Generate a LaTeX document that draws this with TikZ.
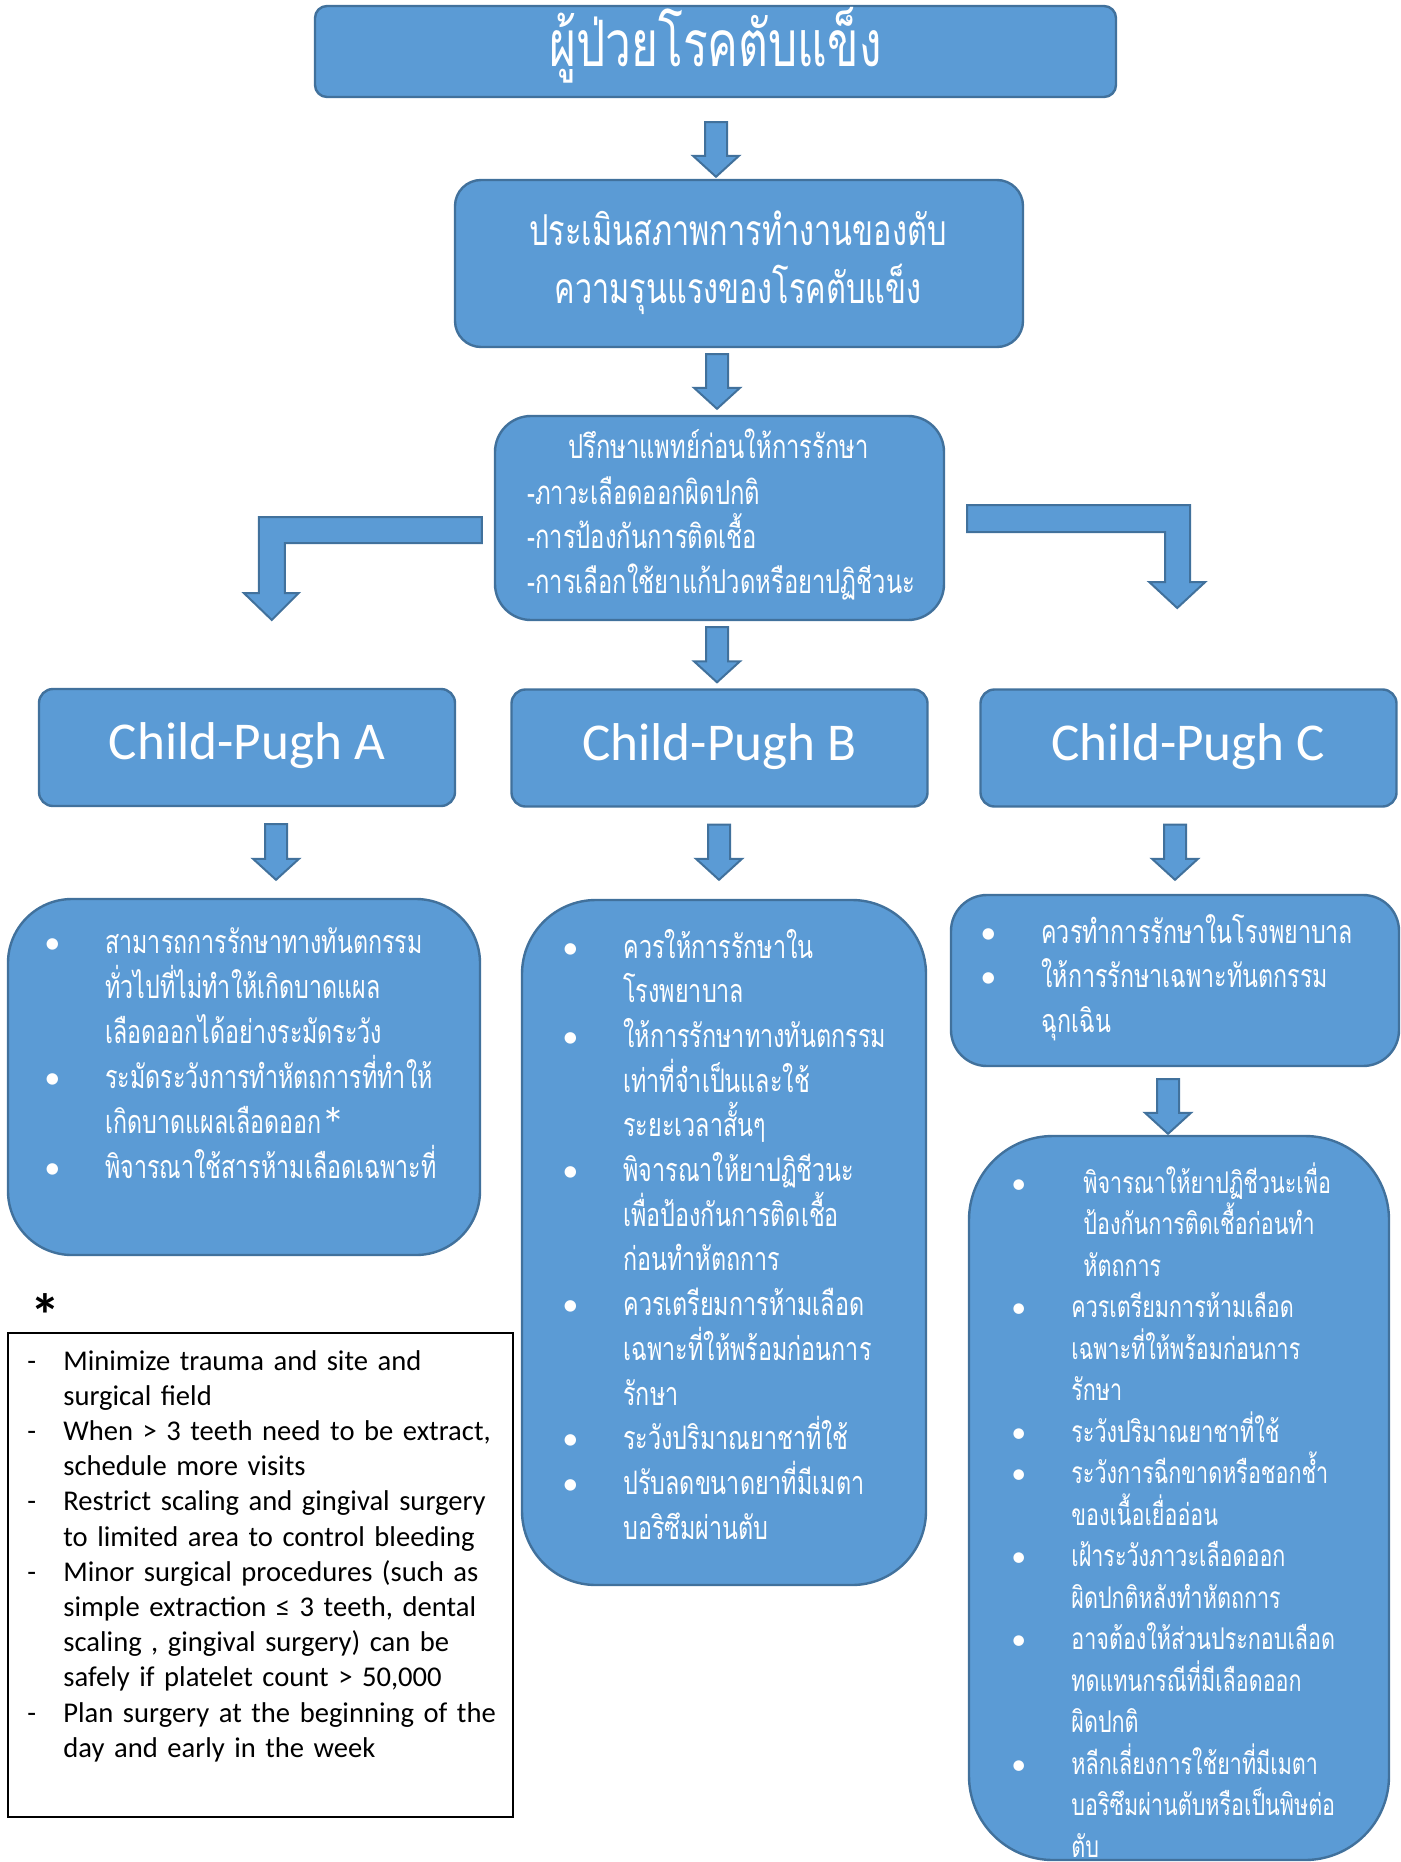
\documentclass[tikz,border=0pt]{standalone}
\usepackage{fontspec}
\setmainfont{Carlito}
\newfontfamily\thaifont[Script=Thai,FakeStretch=0.72]{Loma}
\usetikzlibrary{calc}

\definecolor{boxblue}{HTML}{5B9BD5}
\definecolor{edgeblue}{HTML}{41719C}

\tikzset{
  flowbox/.style={draw=edgeblue, fill=boxblue, line width=1.2pt, text=white, inner sep=0pt},
  blockarrow/.style={draw=edgeblue, fill=boxblue, line width=1pt},
  bodytext/.style={text=white, inner sep=0pt, align=left, text width=#1},
  bodytext/.default=200pt,
  notetext/.style={text=black, inner sep=0pt, align=left, text width=240pt,
    font=\fontsize{14.3}{17.6}\selectfont},
}

% bullet and hanging indent for the Thai lists
\newcommand\itm[1][30.5pt]{\makebox[#1][l]{\rmfamily\textbullet}}
\newcommand\cnt[1][30.5pt]{\hspace*{#1}}
% dash for the note box
\newcommand\dsh{\makebox[18pt][l]{-}}

% block arrow pointing down: source node, target node, x, gap at top, gap at tip
\newcommand\blockdown[5]{%
  \draw[blockarrow] let \p1=(#1.south), \p2=(#2.north), \p3=(#3,0) in
    (\x3-5.5pt,\y1-#4*0.5pt) -- (\x3+5.5pt,\y1-#4*0.5pt)
    -- (\x3+5.5pt,\y2+#5*0.5pt+10.5pt) -- (\x3+11.5pt,\y2+#5*0.5pt+10.5pt)
    -- (\x3,\y2+#5*0.5pt) -- (\x3-11.5pt,\y2+#5*0.5pt+10.5pt)
    -- (\x3-5.5pt,\y2+#5*0.5pt+10.5pt) -- cycle;}

\begin{document}
\begin{tikzpicture}[x=0.5pt, y=-0.5pt]
    \useasboundingbox (0,0) rectangle (1401,1862);

    % Top: patient
    \node[flowbox, rounded corners=6pt, minimum width=400.5pt, minimum height=45.5pt,
          font=\thaifont\fontsize{32}{36}\selectfont, text height=15pt, text depth=0pt]
          (title) at (715.5,51.5) {ผู้ป่วยโรคตับแข็ง};

    % Assessment
    \node[flowbox, rounded corners=13pt, minimum width=284pt, minimum height=83.5pt]
          (assess) at (739,263.5) {};
    \node[bodytext=280pt, align=center, anchor=base, font=\thaifont\fontsize{21.3}{28.5}\selectfont]
          (assesstext) at (738,246) {ประเมินสภาพการทำงานของตับ\\ความรุนแรงของโรคตับแข็ง};

    % Consult
    \node[flowbox, rounded corners=18pt, minimum width=224.5pt, minimum height=102pt]
          (consult) at (719.5,518) {};
    \node[bodytext=220pt, align=center, anchor=base, font=\thaifont\fontsize{16.5}{22.35}\selectfont]
          (consulthead) at (718.5,458) {ปรึกษาแพทย์ก่อนให้การรักษา};
    \node[bodytext=210pt, anchor=base west, font=\thaifont\fontsize{16.5}{22.35}\selectfont]
          (consultlist) at (527,504) {-ภาวะเลือดออกผิดปกติ\\-การป้องกันการติดเชื้อ\\-การเลือกใช้ยาแก้ปวดหรือยาปฏิชีวนะ};

    % Child-Pugh classes
    \tikzset{cpbox/.style={flowbox, rounded corners=7pt, minimum width=208pt, minimum height=58.5pt,
          font=\fontsize{26.6}{30}\selectfont, text height=12pt, text depth=0pt}}
    \node[cpbox] (cpA) at (247,747.5) {Child-Pugh A};
    \node[cpbox] (cpB) at (719.5,748) {Child-Pugh B};
    \node[cpbox] (cpC) at (1188.5,748) {Child-Pugh C};

    % Class A
    \node[flowbox, rounded corners=32pt, minimum width=236pt, minimum height=178pt]
          (boxA) at (244,1077) {};
    \node[bodytext=225pt, anchor=base west, font=\thaifont\fontsize{16.15}{22.5}\selectfont]
          (textA) at (44,953) {\itm สามารถการรักษาทางทันตกรรม\\\cnt ทั่วไปที่ไม่ทำให้เกิดบาดแผล\\\cnt เลือดออกได้อย่างระมัดระวัง\\
          \itm ระมัดระวังการทำหัตถการที่ทำให้\\\cnt เกิดบาดแผลเลือดออก{\rmfamily\fontsize{24}{22.5}\selectfont\raisebox{-4pt}{*}}\\
          \itm พิจารณาใช้สารห้ามเลือดเฉพาะที่};

    % Class B
    \node[flowbox, rounded corners=37pt, minimum width=202pt, minimum height=342.5pt]
          (boxB) at (724,1242.5) {};
    \node[bodytext=195pt, anchor=base west, font=\thaifont\fontsize{16.2}{22.35}\selectfont]
          (textB) at (562,958) {\itm ควรให้การรักษาใน\\\cnt โรงพยาบาล\\
          \itm ให้การรักษาทางทันตกรรม\\\cnt เท่าที่จำเป็นและใช้\\\cnt ระยะเวลาสั้นๆ\\
          \itm พิจารณาให้ยาปฏิชีวนะ\\\cnt เพื่อป้องกันการติดเชื้อ\\\cnt ก่อนทำหัตถการ\\
          \itm ควรเตรียมการห้ามเลือด\\\cnt เฉพาะที่ให้พร้อมก่อนการ\\\cnt รักษา\\
          \itm ระวังปริมาณยาชาที่ใช้\\
          \itm ปรับลดขนาดยาที่มีเมตา\\\cnt บอริซึมผ่านตับ};

    % Class C
    \node[flowbox, rounded corners=18pt, minimum width=224pt, minimum height=85.5pt]
          (boxC1) at (1175,980.5) {};
    \node[bodytext=215pt, anchor=base west, font=\thaifont\fontsize{16.15}{22.25}\selectfont]
          (textC1) at (980,943) {\itm ควรทำการรักษาในโรงพยาบาล\\
          \itm ให้การรักษาเฉพาะทันตกรรม\\\cnt ฉุกเฉิน};
    \node[flowbox, rounded corners=42pt, minimum width=210pt, minimum height=362pt]
          (boxC2) at (1179,1498) {};
    \node[bodytext=200pt, anchor=base west, font=\thaifont\fontsize{14.95}{20.75}\selectfont]
          (textC2) at (1011,1193) {\itm[36pt]พิจารณาให้ยาปฏิชีวนะเพื่อ\\\cnt[36pt]ป้องกันการติดเชื้อก่อนทำ\\\cnt[36pt]หัตถการ\\
          \itm[30pt]ควรเตรียมการห้ามเลือด\\\cnt[30pt]เฉพาะที่ให้พร้อมก่อนการ\\\cnt[30pt]รักษา\\
          \itm[30pt]ระวังปริมาณยาชาที่ใช้\\
          \itm[30pt]ระวังการฉีกขาดหรือชอกช้ำ\\\cnt[30pt]ของเนื้อเยื่ออ่อน\\
          \itm[30pt]เฝ้าระวังภาวะเลือดออก\\\cnt[30pt]ผิดปกติหลังทำหัตถการ\\
          \itm[30pt]อาจต้องให้ส่วนประกอบเลือด\\\cnt[30pt]ทดแทนกรณีที่มีเลือดออก\\\cnt[30pt]ผิดปกติ\\
          \itm[30pt]หลีกเลี่ยงการใช้ยาที่มีเมตา\\\cnt[30pt]บอริซึมผ่านตับหรือเป็นพิษต่อ\\\cnt[30pt]ตับ};

    % Note for the asterisk
    \node[font=\bfseries\fontsize{30}{30}\selectfont, anchor=base, inner sep=0pt] (star) at (45,1336) {*};
    \node[draw=black, line width=0.8pt, minimum width=252.5pt, minimum height=242pt] (note) at (260.5,1575) {};
    \node[notetext, anchor=base west] (notetext) at (27,1370) {\dsh Minimize trauma and site and\\\hspace*{18pt}surgical field\\
          \dsh When > 3 teeth need to be extract,\\\hspace*{18pt}schedule more visits\\
          \dsh Restrict scaling and gingival surgery\\\hspace*{18pt}to limited area to control bleeding\\
          \dsh Minor surgical procedures (such as\\\hspace*{18pt}simple extraction ≤ 3 teeth, dental\\\hspace*{18pt}scaling , gingival surgery) can be\\\hspace*{18pt}safely if platelet count > 50,000\\
          \dsh Plan surgery at the beginning of the\\\hspace*{18pt}day and early in the week};

    % Straight arrows
    \blockdown{title}{assess}{716}{24}{2}
    \blockdown{assess}{consult}{717}{6}{6}
    \blockdown{consult}{cpB}{717}{6}{6}
    \blockdown{cpA}{boxA}{276}{17}{18}
    \blockdown{cpB}{boxB}{719}{17}{19}
    \blockdown{cpC}{boxC1}{1175}{17}{14}
    \blockdown{boxC1}{boxC2}{1168}{12}{1}

    % Elbow arrows to classes A and C
    \draw[blockarrow] ([xshift=-6pt,yshift=0.5pt]consult.west) -- ++(-111.5pt,0) -- ++(0,-38pt)
        -- ++(-7.5pt,0) -- ++(14pt,-13.5pt) -- ++(13.5pt,13.5pt) -- ++(-7pt,0)
        -- ++(0,25pt) -- ++(98.5pt,0) -- cycle;
    \draw[blockarrow] ([xshift=11pt,yshift=6.5pt]consult.east) -- ++(111.5pt,0) -- ++(0,-38.5pt)
        -- ++(7.5pt,0) -- ++(-14pt,-13pt) -- ++(-14pt,13pt) -- ++(8pt,0)
        -- ++(0,25pt) -- ++(-99pt,0) -- cycle;
\end{tikzpicture}
\end{document}
